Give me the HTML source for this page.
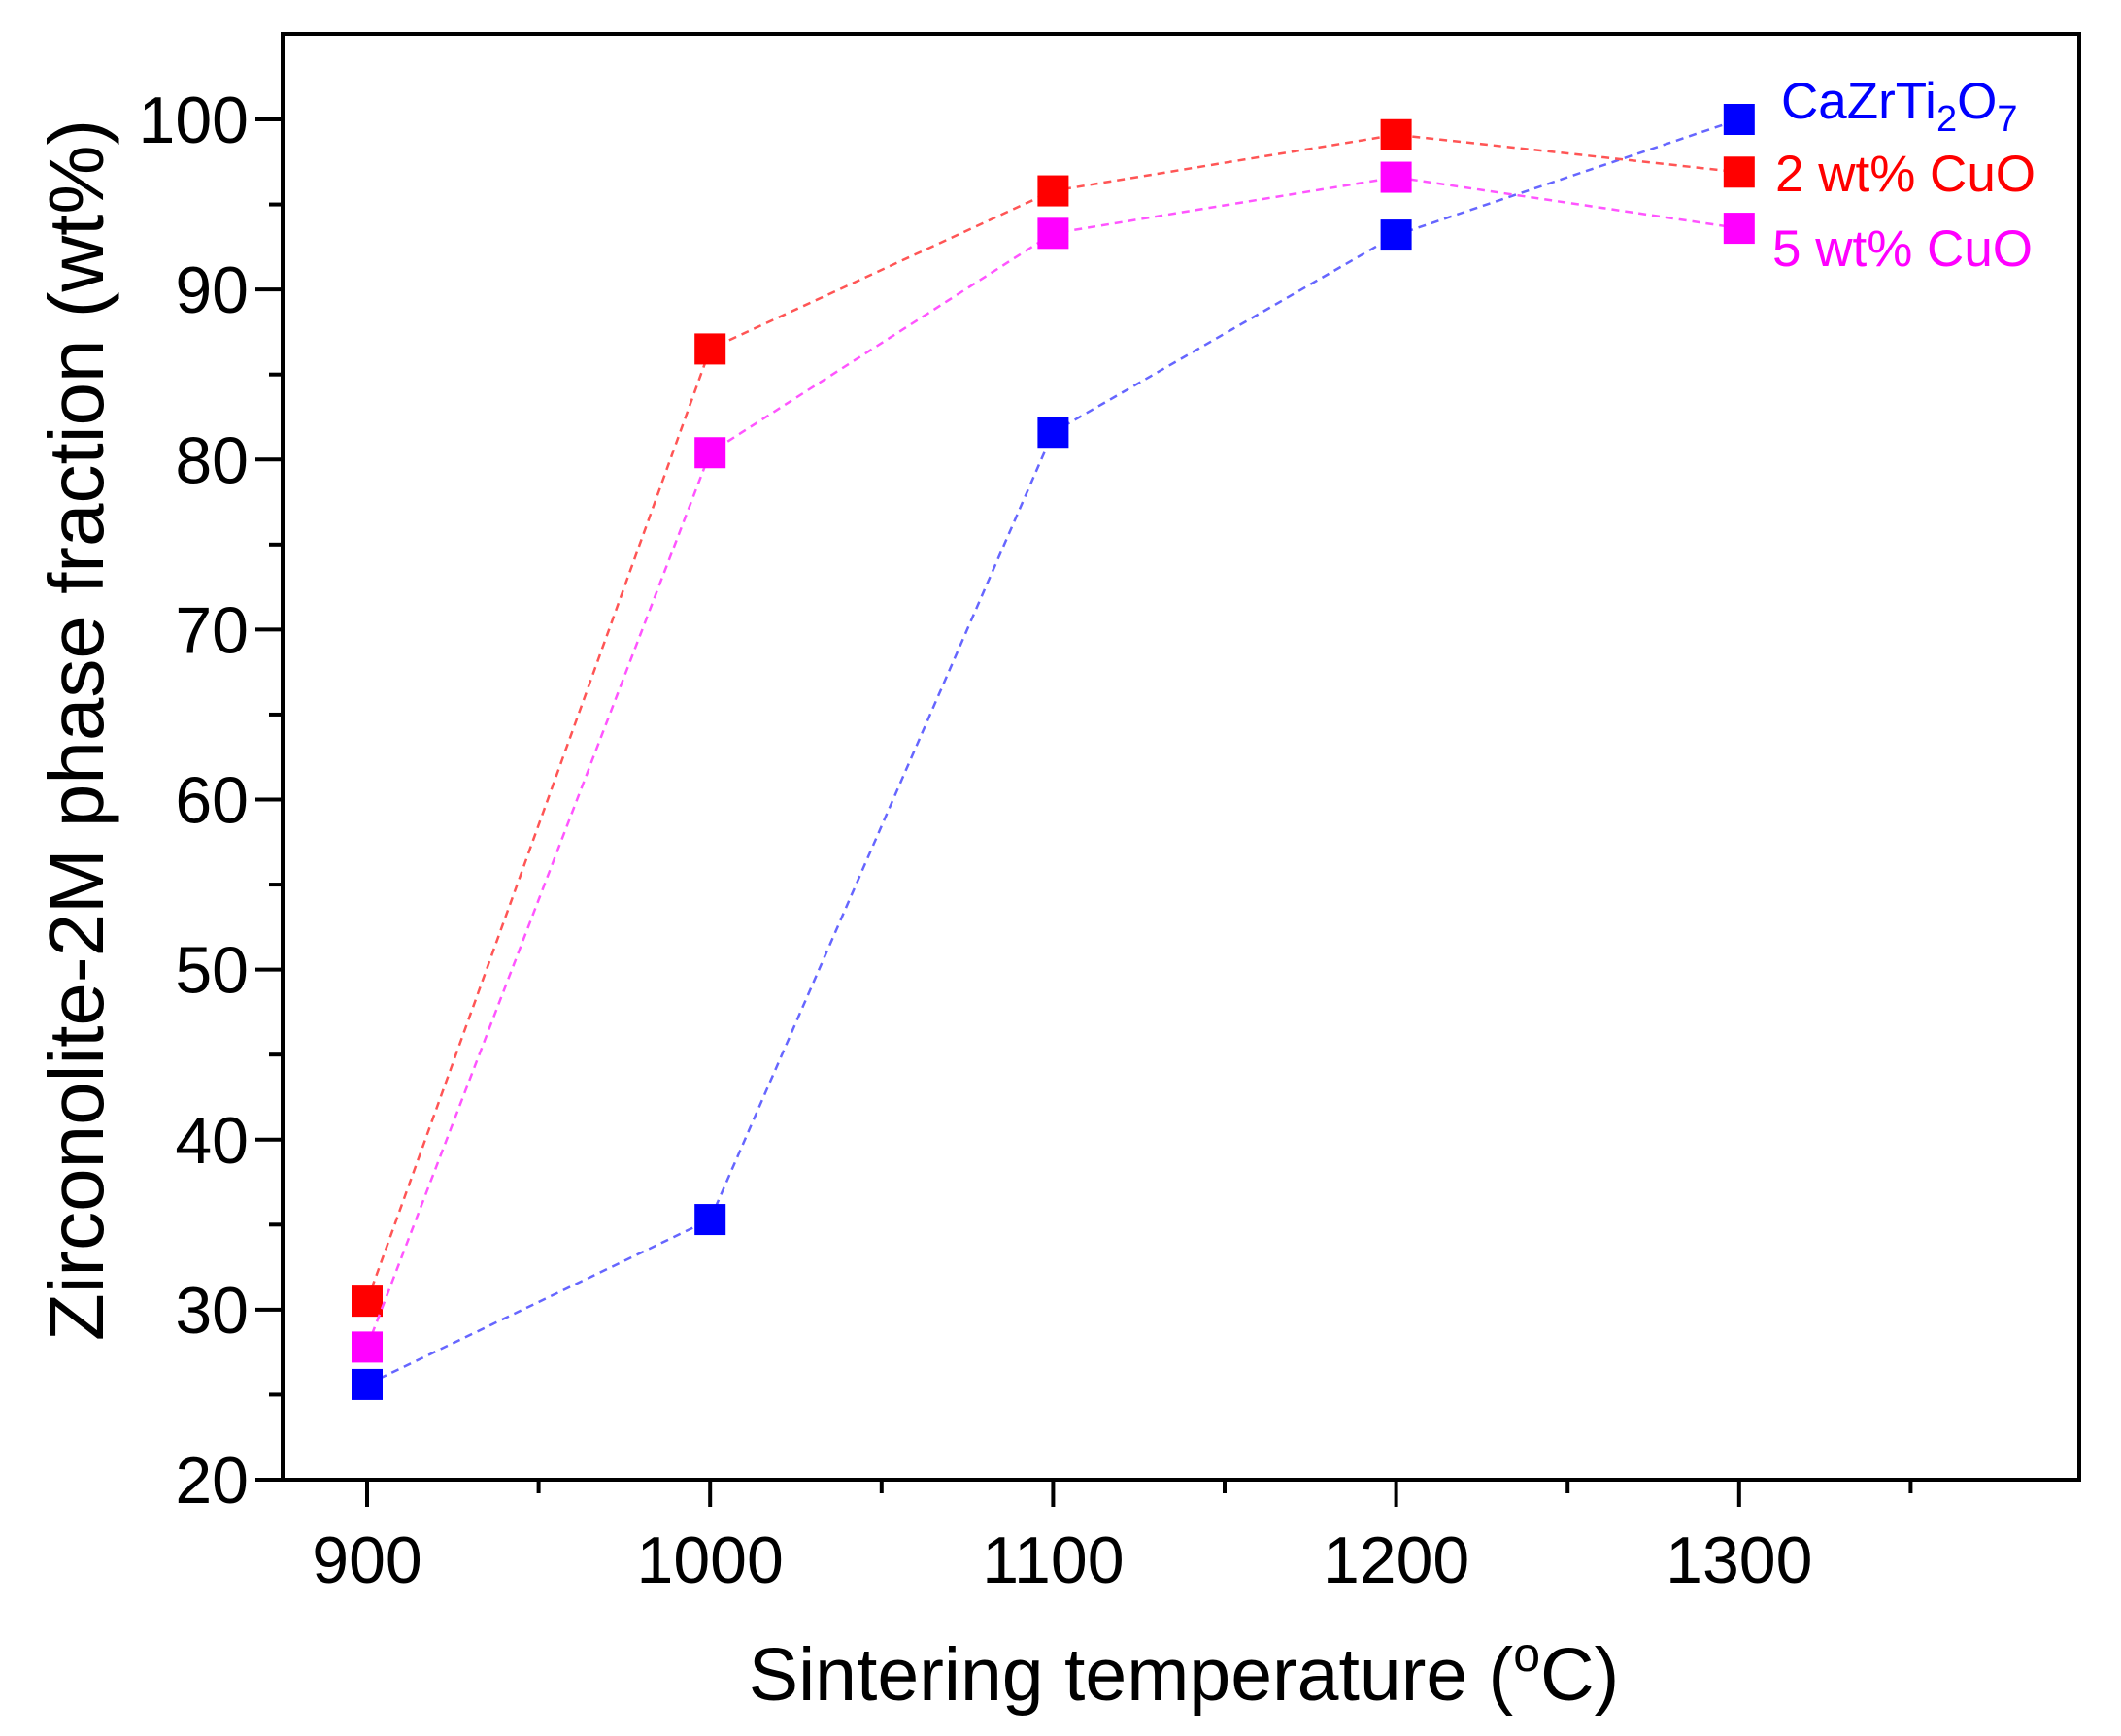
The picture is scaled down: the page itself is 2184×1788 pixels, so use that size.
<!DOCTYPE html>
<html><head><meta charset="utf-8"><style>
html,body{margin:0;padding:0;background:#fff;}
svg{display:block;font-family:"Liberation Sans",Arial,sans-serif;}
</style></head><body>
<svg id="chart" width="2184" height="1788" viewBox="0 0 2184 1788" xmlns="http://www.w3.org/2000/svg">
<g id="grid-layer"></g>
<g id="series-layer"></g>
<g font-size="53">
  <text x="1834" y="122" fill="#0000ff">CaZrTi<tspan font-size="38" dy="13">2</tspan><tspan dy="-13">O</tspan><tspan font-size="38" dy="13">7</tspan></text>
  <text x="1828" y="197" fill="#ff0000">2 wt% CuO</text>
  <text x="1825" y="274" fill="#ff00ff">5 wt% CuO</text>
</g>
<text x="1219" y="1751" font-size="77" text-anchor="middle" fill="#000">Sintering temperature (<tspan font-size="50" dy="-30">o</tspan><tspan dy="30">C)</tspan></text>
<text transform="translate(106,752) rotate(-90)" font-size="80" text-anchor="middle" fill="#000">Zirconolite-2M phase fraction (wt%)</text>
<script>
const temps = [900, 1000, 1100, 1200, 1300];
const pureValues = [25.6, 35.3, 81.6, 93.2, 100.0];
const cuo2Values = [30.5, 86.5, 95.8, 99.1, 96.9];
const cuo5Values = [27.8, 80.4, 93.3, 96.6, 93.6];
const xTickLabels = [900, 1000, 1100, 1200, 1300];
const yTickLabels = [20, 30, 40, 50, 60, 70, 80, 90, 100];

const NS = "http://www.w3.org/2000/svg";
const X0 = 291, X1 = 2141, Y0 = 35, Y1 = 1524;
function xs(v){ return 378 + (v - 900) * 3.532; }
function ys(v){ return 1524 - (v - 20) * 17.5125; }
function mk(tag, attrs, parent){
  const e = document.createElementNS(NS, tag);
  for (const k in attrs) e.setAttribute(k, attrs[k]);
  parent.appendChild(e); return e;
}
const ax = document.getElementById('grid-layer');
const frame = mk('rect', {x:X0, y:Y0, width:X1-X0, height:Y1-Y0, fill:'none', stroke:'#000', 'stroke-width':4}, ax);


for (let v = 900; v <= 1350; v += 50) {
  const major = v % 100 === 0;
  const t = mk('line', {x1:xs(v), x2:xs(v), y1:Y1, y2:Y1 + (major ? 28 : 14), stroke:'#000', 'stroke-width':4}, ax);
  
  
}
xTickLabels.forEach(v => {
  const t = mk('text', {x:xs(v), y:1630, 'font-size':68, 'text-anchor':'middle', fill:'#000'}, ax);
  t.textContent = v;
  
  
});
for (let v = 20; v <= 100; v += 5) {
  const major = v % 10 === 0;
  const t = mk('line', {x1:X0, x2:X0 - (major ? 28 : 14), y1:ys(v), y2:ys(v), stroke:'#000', 'stroke-width':4}, ax);
  
  
}
yTickLabels.forEach(v => {
  const t = mk('text', {x:256, y:ys(v) + 24, 'font-size':68, 'text-anchor':'end', fill:'#000'}, ax);
  t.textContent = v;
  
  
});
const sl = document.getElementById('series-layer');
const series = [
  {name:'cazrti2o7', vals:pureValues, color:'#0000ff', line:'#6666ff'},
  {name:'2wt-cuo', vals:cuo2Values, color:'#ff0000', line:'#ff5555'},
  {name:'5wt-cuo', vals:cuo5Values, color:'#ff00ff', line:'#ff55ff'}
];
series.forEach(s => {
  const pts = temps.map((t, i) => xs(t) + ',' + ys(s.vals[i])).join(' ');
  const pl = mk('polyline', {points:pts, fill:'none', stroke:s.line, 'stroke-width':2.5, 'stroke-dasharray':'8,6'}, sl);
  
  
  temps.forEach((t, i) => {
    const r = mk('rect', {x:xs(t) - 16, y:ys(s.vals[i]) - 16, width:32, height:32, fill:s.color}, sl);
    
    
  });
});
</script>
</svg>
</body></html>
